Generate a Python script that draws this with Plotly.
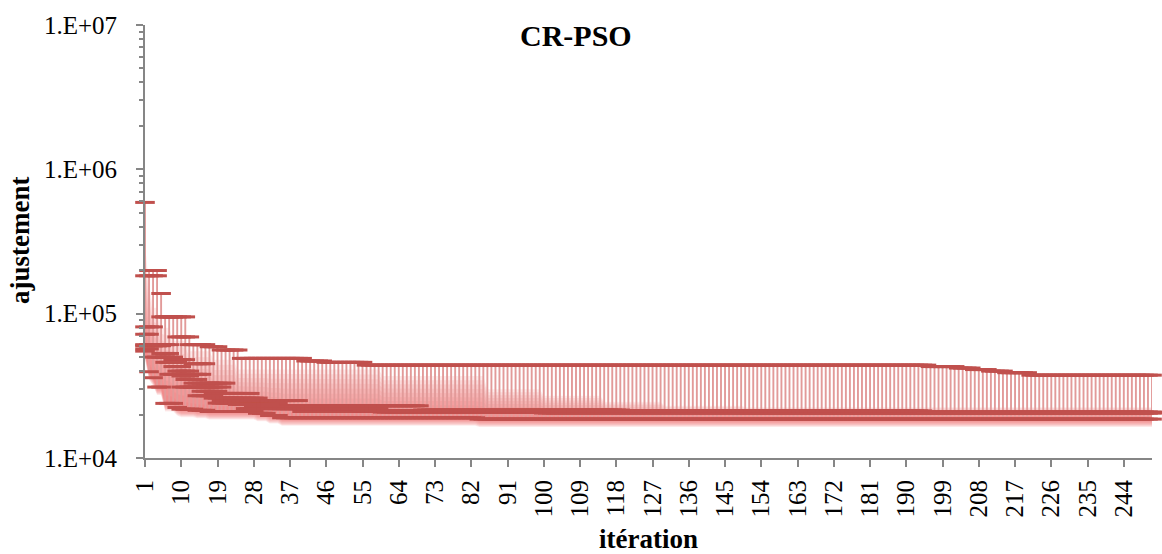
import plotly.graph_objects as go

N_ITER = 251

# Best fitness per run, run-length encoded: (iteration where value starts, value)
run_a_start = [1, 2, 5, 6, 12, 17, 20, 25, 41, 46, 56, 196, 203, 207, 211, 215, 221]
run_a_value = [5.9e5, 1.99e5, 1.38e5, 9.5e4, 6.1e4, 5.9e4, 5.6e4, 4.9e4, 4.7e4, 4.6e4, 4.4e4,
               4.3e4, 4.2e4, 4.1e4, 4.0e4, 3.9e4, 3.75e4]

run_b_start = [1, 5, 9, 13, 17, 22, 28, 40, 70, 120]
run_b_value = [1.83e5, 9.5e4, 6.9e4, 4.5e4, 3.3e4, 2.8e4, 2.5e4, 2.3e4, 2.15e4, 2.07e4]

run_c_start = [1, 4, 8, 12, 16, 21, 30, 50, 90]
run_c_value = [8.1e4, 6.1e4, 4.8e4, 3.8e4, 3.1e4, 2.6e4, 2.3e4, 2.12e4, 2.07e4]

run_d_start = [1, 3, 6, 9, 13, 18, 24, 35, 60]
run_d_value = [7.2e4, 6.0e4, 5.0e4, 4.0e4, 3.3e4, 2.8e4, 2.4e4, 2.2e4, 2.08e4]

run_e_start = [1, 5, 8, 11, 15, 20, 28, 45, 150]
run_e_value = [6.0e4, 5.3e4, 4.3e4, 3.5e4, 2.9e4, 2.5e4, 2.25e4, 2.1e4, 2.06e4]

run_f_start = [1, 3, 7, 10, 14, 19, 26, 40, 100]
run_f_value = [5.7e4, 5.0e4, 3.8e4, 3.1e4, 2.7e4, 2.4e4, 2.2e4, 2.1e4, 2.05e4]

run_g_start = [1, 2, 3, 4, 6, 9, 10, 14, 17, 29, 32, 35, 84]
run_g_value = [5.5e4, 3.96e4, 3.6e4, 3.1e4, 2.39e4, 2.24e4, 2.18e4, 2.14e4, 2.1e4, 2.04e4,
               1.97e4, 1.9e4, 1.86e4]

run_h_start = [1, 6, 10, 13, 18, 24, 33, 55, 195]
run_h_value = [6.1e4, 4.6e4, 3.7e4, 3.1e4, 2.6e4, 2.35e4, 2.2e4, 2.12e4, 2.06e4]

# Upper edge of the pink glow band
glow_top_start = [1, 2, 3, 5, 8, 12, 18, 24, 60, 86, 100, 115, 130, 150]
glow_top_value = [3.0e5, 1.6e5, 1.1e5, 8.0e4, 6.5e4, 5.5e4, 4.8e4, 4.1e4, 3.7e4, 3.0e4,
                  2.7e4, 2.45e4, 2.3e4, 2.25e4]

x_tick_vals = [1, 10, 19, 28, 37, 46, 55, 64, 73, 82, 91, 100, 109, 118, 127, 136, 145,
               154, 163, 172, 181, 190, 199, 208, 217, 226, 235, 244]
y_tick_vals = [1e4, 1e5, 1e6, 1e7]
y_tick_text = ["1.E+04", "1.E+05", "1.E+06", "1.E+07"]


def expand(starts, values, n=N_ITER):
    out = []
    j = 0
    for i in range(1, n + 1):
        while j + 1 < len(starts) and starts[j + 1] <= i:
            j += 1
        out.append(values[j])
    return out


iters = list(range(1, N_ITER + 1))
runs = [expand(s, v) for s, v in [
    (run_a_start, run_a_value), (run_b_start, run_b_value), (run_c_start, run_c_value),
    (run_d_start, run_d_value), (run_e_start, run_e_value), (run_f_start, run_f_value),
    (run_g_start, run_g_value), (run_h_start, run_h_value)]]
glow_top = expand(glow_top_start, glow_top_value)

hi = [max(r[i] for r in runs) for i in range(N_ITER)]
lo = [min(r[i] for r in runs) for i in range(N_ITER)]

RED = "#C0504D"
FONT = "Liberation Serif"

fig = go.Figure()

# glow band (layered translucent fills)
K = 10
for k in range(1, K + 1):
    f = k / K
    up = [lo[i] * (max(glow_top[i], lo[i]) / lo[i]) ** f for i in range(N_ITER)]
    dn = [lo[i] * 0.88 ** f for i in range(N_ITER)]
    fig.add_trace(go.Scatter(
        x=iters + iters[::-1], y=up + dn[::-1], mode="lines", fill="toself",
        fillcolor="rgba(236,100,100,0.12)", line=dict(width=0), hoverinfo="skip",
        showlegend=False))

# high-low lines
hx, hy = [], []
for i in range(N_ITER):
    hx += [iters[i], iters[i], None]
    hy += [lo[i], hi[i], None]
fig.add_trace(go.Scatter(x=hx, y=hy, mode="lines", line=dict(color="#E29A99", width=1.9),
                         hoverinfo="skip", showlegend=False))

# dash markers for each run
for r in runs:
    fig.add_trace(go.Scatter(
        x=iters, y=r, mode="markers", cliponaxis=False, showlegend=False,
        marker=dict(symbol="line-ew", size=14, color=RED, line=dict(width=3, color=RED))))

L, R, T, B = 145, 10, 25, 96
W, H = 1162, 554
pw, ph = W - L - R, H - T - B


def px(xp):
    return (xp - L) / pw


def py(yp):
    return (H - B - yp) / ph


minor_vals = [k * 10 ** d for d in (4, 5, 6) for k in range(2, 10)]

fig.update_layout(
    width=W, height=H, margin=dict(l=L, r=R, t=T, b=B),
    paper_bgcolor="white", plot_bgcolor="white", showlegend=False,
    font=dict(family=FONT, color="black"),
    xaxis=dict(range=[1, N_ITER], tickmode="array", tickvals=x_tick_vals,
               ticktext=[str(v) for v in x_tick_vals], tickangle=-90,
               ticks="outside", ticklen=7, tickwidth=1.5, tickcolor="#868686",
               showline=True, linecolor="#868686", linewidth=2, showgrid=False,
               zeroline=False, tickfont=dict(family=FONT, size=25, color="black"),
               ticklabelstandoff=3),
    yaxis=dict(type="log", range=[4, 7], tickmode="array", tickvals=y_tick_vals,
               ticktext=y_tick_text, ticks="outside", ticklen=7, tickwidth=1.5,
               tickcolor="#868686", showline=True, linecolor="#868686", linewidth=2,
               showgrid=False, zeroline=False,
               tickfont=dict(family=FONT, size=25, color="black"),
               ticklabelstandoff=14,
               minor=dict(tickmode="array", tickvals=minor_vals, ticks="outside",
                          ticklen=4, tickwidth=1.5, tickcolor="#868686", showgrid=False)),
    annotations=[
        dict(text="<b>CR-PSO</b>", x=px(576), y=py(36), xref="paper", yref="paper",
             xanchor="center", yanchor="middle",
             showarrow=False, font=dict(family=FONT, size=30, color="black")),
        dict(text="<b>ajustement</b>", x=px(20), y=py(241), xref="paper", yref="paper",
             xanchor="center", yanchor="middle",
             textangle=-90, showarrow=False, font=dict(family=FONT, size=27, color="black")),
        dict(text="<b>itération</b>", x=px(648), y=py(539), xref="paper", yref="paper",
             xanchor="center", yanchor="middle",
             showarrow=False, font=dict(family=FONT, size=27, color="black")),
    ],
)

fig.write_html("out.html", config={"displayModeBar": False},
               post_script="document.body.style.margin='0';")
